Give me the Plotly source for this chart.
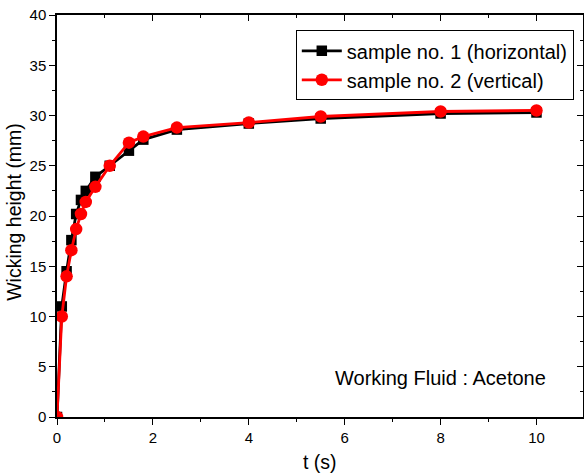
import plotly.graph_objects as go

t1 = [0, 0.1, 0.2, 0.3, 0.4, 0.5, 0.6, 0.8, 1.1, 1.5, 1.8, 2.5, 4, 5.5, 8, 10]
h1 = [0, 11.0, 14.5, 17.6, 20.2, 21.6, 22.5, 23.9, 25.0, 26.5, 27.6, 28.6, 29.2, 29.7, 30.2, 30.3]
t2 = [0, 0.1, 0.2, 0.3, 0.4, 0.5, 0.6, 0.8, 1.1, 1.5, 1.8, 2.5, 4, 5.5, 8, 10]
h2 = [0, 10.0, 14.0, 16.6, 18.7, 20.2, 21.4, 22.9, 25.0, 27.3, 27.9, 28.8, 29.3, 29.9, 30.4, 30.5]

name1 = "sample no. 1 (horizontal)"
name2 = "sample no. 2 (vertical)"
xlabel = "t (s)"
ylabel = "Wicking height (mm)"
note = "Working Fluid : Acetone"

FONT = "Liberation Sans, Arial, sans-serif"
XR = [0, 10.97]
YR = [0, 40]

fig = go.Figure()
fig.add_trace(go.Scatter(x=t1, y=h1, name=name1, mode="lines+markers",
                         line=dict(color="black", width=2.8),
                         marker=dict(symbol="square", size=10.5, color="black")))
fig.add_trace(go.Scatter(x=t2, y=h2, name=name2, mode="lines+markers",
                         line=dict(color="#ff0000", width=2.8),
                         marker=dict(symbol="circle", size=12.5, color="#ff0000")))
# helper trace for mirrored inward ticks
fig.add_trace(go.Scatter(x=[], y=[], xaxis="x2", yaxis="y2", showlegend=False, hoverinfo="skip"))

fig.update_layout(
    width=584, height=475,
    margin=dict(l=57, r=1, t=15, b=58),
    paper_bgcolor="white", plot_bgcolor="white",
    font=dict(family=FONT, size=15, color="black"),
    showlegend=True,
    legend=dict(x=0.454, y=0.962, xanchor="left", yanchor="top",
                bordercolor="black", borderwidth=1, bgcolor="white",
                font=dict(size=20, family=FONT), tracegroupgap=0, itemwidth=40),
    xaxis=dict(range=XR, automargin=False, showgrid=False, zeroline=False, showline=True,
               linecolor="black", linewidth=1.5, mirror=True, ticks="outside", ticklen=6,
               tickwidth=1.2, tickcolor="black", tickmode="linear", tick0=0, dtick=2,
               minor=dict(ticks="outside", ticklen=3, dtick=1, tickcolor="black", tickwidth=1.2),
               tickfont=dict(size=15)),
    yaxis=dict(range=YR, automargin=False, showgrid=False, zeroline=False, showline=True,
               linecolor="black", linewidth=1.5, mirror=True, ticks="outside", ticklen=6,
               tickwidth=1.2, tickcolor="black", tickmode="linear", tick0=0, dtick=5,
               minor=dict(ticks="outside", ticklen=3, dtick=2.5, tickcolor="black", tickwidth=1.2),
               tickfont=dict(size=15)),
    xaxis2=dict(range=XR, automargin=False, overlaying="x", side="top", showgrid=False,
                zeroline=False, showline=False, showticklabels=False, ticks="inside", ticklen=6,
                tickwidth=1.2, tickcolor="black", tickmode="linear", tick0=0, dtick=2,
                minor=dict(ticks="inside", ticklen=3, dtick=1, tickcolor="black", tickwidth=1.2)),
    yaxis2=dict(range=YR, automargin=False, overlaying="y", side="right", showgrid=False,
                zeroline=False, showline=False, showticklabels=False, ticks="inside", ticklen=6,
                tickwidth=1.2, tickcolor="black", tickmode="linear", tick0=0, dtick=5,
                minor=dict(ticks="inside", ticklen=3, dtick=2.5, tickcolor="black", tickwidth=1.2)),
    annotations=[
        dict(text=note, x=10.24, y=3.9, xref="x", yref="y", xanchor="right",
             yanchor="middle", showarrow=False, font=dict(size=20, family=FONT)),
        dict(text=xlabel, x=0.5, y=-0.112, xref="paper", yref="paper", xanchor="center",
             yanchor="middle", showarrow=False, font=dict(size=19.5, family=FONT)),
        dict(text=ylabel, x=-0.082, y=0.51, xref="paper", yref="paper", xanchor="center",
             yanchor="middle", textangle=-90, showarrow=False, font=dict(size=19.5, family=FONT)),
    ],
)

fig.write_html("out.html", config={"displayModeBar": False},
               post_script="document.body.style.margin='0';document.body.style.overflow='hidden';")
